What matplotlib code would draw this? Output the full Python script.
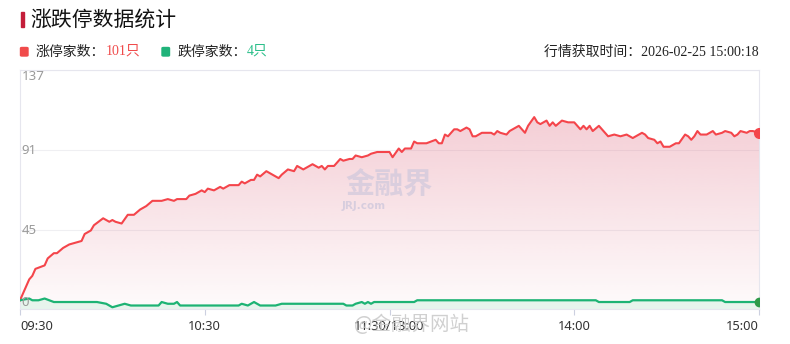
import matplotlib
matplotlib.use('Agg')
import matplotlib.pyplot as plt
import numpy as np
from matplotlib.patches import Rectangle, Polygon, FancyBboxPatch
from matplotlib.colors import to_rgb
import matplotlib.transforms as mtransforms

plt.rcParams['font.family'] = ['Noto Sans CJK SC', 'DejaVu Sans']

# ---------------- data ----------------
title = '涨跌停数据统计'
up_label = '涨停家数：'
up_count = '101只'
down_label = '跌停家数：'
down_count = '4只'
time_label = '行情获取时间：2026-02-25 15:00:18'

x_tick_pos = [0, 60, 120, 180, 240]          # trading minutes since 09:30
x_tick_labels = ['09:30', '10:30', '11:30/13:00', '14:00', '15:00']
y_ticks = [0, 45, 91, 137]

red_min = [0, 3, 4, 5, 8, 9, 11, 12, 14, 16, 18, 20, 21, 23, 24, 27, 29, 30, 31, 33,
           35, 37, 39, 41, 43, 46, 48, 50, 51, 54, 55, 57, 59, 60, 61, 63, 65, 66, 68, 70,
           71, 72, 73, 75, 76, 77, 78, 80, 81, 83, 84, 85, 87, 89, 90, 92, 95, 97, 98, 99,
           100, 102, 104, 105, 107, 108, 109, 111, 113, 114, 116, 120, 121, 123, 124, 125, 127, 128, 129, 132,
           135, 136, 137, 138, 139, 141, 142, 143, 145, 146, 147, 148, 150, 153, 154, 155, 156, 158, 159, 161,
           162, 164, 165, 167, 168, 169, 171, 172, 173, 174, 176, 178, 180, 182, 183, 184, 185, 186, 188, 189,
           191, 193, 195, 197, 198, 199, 200, 202, 203, 204, 206, 207, 208, 209, 211, 212, 213, 214, 216, 217,
           218, 219, 220, 221, 223, 225, 226, 228, 229, 231, 232, 233, 234, 236, 237, 238, 240]
red_val = [5, 17, 19, 23, 25, 29, 32, 32, 35, 37, 38, 39, 43, 45, 48, 52, 50, 51, 50, 49,
           54, 54, 57, 59, 62, 62, 63, 62, 63, 63, 65, 66, 68, 67, 69, 68, 70, 69, 71, 71,
           71, 73, 72, 74, 74, 77, 76, 79, 78, 76, 75, 77, 80, 79, 82, 80, 83, 81, 82, 80,
           82, 82, 86, 85, 86, 86, 88, 87, 88, 89, 90, 90, 87, 92, 90, 92, 92, 96, 95, 95,
           97, 95, 95, 100, 99, 103, 103, 102, 104, 103, 99, 99, 101, 101, 100, 102, 101, 100, 102, 104,
           105, 101, 105, 110, 107, 106, 108, 105, 107, 105, 108, 107, 107, 103, 105, 103, 105, 102, 105, 103,
           99, 100, 99, 100, 99, 98, 99, 101, 100, 98, 97, 95, 96, 93, 93, 94, 95, 95, 100, 99,
           97, 99, 102, 100, 100, 102, 100, 101, 102, 101, 99, 100, 102, 101, 102, 102, 101]

green_min = [0, 3, 4, 6, 8, 11, 25, 28, 30, 32, 34, 36, 45, 46, 48, 50, 51, 52, 71, 72,
             74, 76, 78, 83, 85, 105, 106, 108, 109, 111, 112, 113, 114, 115, 128, 129, 187, 188, 198, 199,
             228, 229, 240]
green_val = [5, 6, 5, 5, 6, 4, 4, 3, 1, 2, 3, 2, 2, 4, 3, 3, 4, 2, 2, 3,
             2, 4, 2, 2, 3, 3, 2, 2, 3, 4, 3, 4, 3, 4, 4, 5, 5, 4, 4, 5,
             5, 4, 4]

# ---------------- style ----------------
W, H = 790, 344
RED = '#f4454b'
GREEN = '#1db374'
fig = plt.figure(figsize=(W / 100, H / 100), dpi=100)
fig.patch.set_facecolor('white')

def fx(px):
    return px / W

def fy(py):
    return 1 - py / H

ax = fig.add_axes([fx(20), 35 / H, 739 / W, 239 / H])
ax.set_facecolor('white')

# gradient fill under red line
grad = np.linspace(0, 1, 256).reshape(-1, 1)
rgba = np.zeros((256, 1, 4))
rgba[..., :3] = to_rgb('#e2788c')
rgba[..., 3] = (0.03 + 0.33 * grad)
im = ax.imshow(rgba, extent=[0, 240, 0, max(red_val)], origin='lower',
               aspect='auto', zorder=1, interpolation='bilinear')
verts = [(red_min[0], 0)] + list(zip(red_min, red_val)) + [(red_min[-1], 0)]
poly = Polygon(verts, closed=True, facecolor='none', edgecolor='none')
ax.add_patch(poly)
im.set_clip_path(poly)

ax.fill_between(green_min, 0, green_val, color='#d9f1e4', alpha=0.6, zorder=1.5, linewidth=0)

ax.plot(red_min, red_val, color=RED, lw=1.5, zorder=3, solid_joinstyle='round')
ax.plot(green_min, green_val, color=GREEN, lw=1.6, zorder=3, solid_joinstyle='round')
ax.plot([red_min[-1]], [red_val[-1]], 'o', ms=7, color=RED, zorder=4, clip_on=True)
ax.plot([green_min[-1]], [green_val[-1]], 'o', ms=6, color='#2f9a4a', zorder=4, clip_on=True)

ax.set_xlim(0, 240)
ax.set_ylim(0, 137)

for s in ax.spines.values():
    s.set_color('#e6e6ee')
    s.set_linewidth(0.8)

ax.set_yticks(y_ticks)
ax.set_yticklabels([])
ax.tick_params(axis='y', length=0)
ax.yaxis.grid(True, color='#efeff2', lw=0.8)
ax.set_axisbelow(True)

trans = mtransforms.blended_transform_factory(ax.transAxes, ax.transData)
for v in y_ticks:
    va = 'center'
    if v == y_ticks[-1]:
        va = 'top'
    elif v == y_ticks[0]:
        va = 'bottom'
    ax.text(0.002, v, str(v), transform=trans, ha='left', va=va, color='#9a9a9a',
            fontsize=9.5, family=['Noto Sans', 'DejaVu Sans'], zorder=5)

ax.set_xticks(x_tick_pos)
ax.set_xticklabels(x_tick_labels, fontsize=9.3, color='#333333', family=['Noto Sans', 'Noto Sans CJK SC'])
ax.tick_params(axis='x', length=4, color='#ccd0e0', pad=4, width=0.8)
xt = ax.get_xticklabels()
xt[0].set_ha('left')
xt[-1].set_ha('right')

# watermark
ax.text(0.5, 0.52, '金融界', transform=ax.transAxes, ha='center', va='center', fontsize=21,
        fontweight='bold', color='#cfc8dc', alpha=0.7, zorder=2)
ax.text(0.465, 0.43, 'JRJ.com', transform=ax.transAxes, ha='center', va='center', fontsize=7.5,
        fontweight='bold', color='#cfc8dc', alpha=0.8, zorder=2, family='DejaVu Sans')
fig.text(fx(412), fy(325), '@金融界网站', ha='center', va='center', fontsize=14,
         color='#c8c8c8', alpha=0.85)

# title
fig.add_artist(Rectangle((fx(20.5), fy(27)), 3 / W, 15 / H, color='#c41e3a',
                         transform=fig.transFigure))
fig.text(fx(30), fy(19.5), title, ha='left', va='center', fontsize=15, color='#111111')

# legend
ly = fy(51.5)
fig.add_artist(FancyBboxPatch((fx(20.5), fy(56)), 7.5 / W, 8.5 / H,
                              boxstyle='round,pad=0,rounding_size=0.002',
                              color='#f04b4b', transform=fig.transFigure))
fig.add_artist(FancyBboxPatch((fx(162), fy(56)), 7.5 / W, 8.5 / H,
                              boxstyle='round,pad=0,rounding_size=0.002',
                              color='#20b37a', transform=fig.transFigure))

renderer = fig.canvas.get_renderer()
t1 = fig.text(fx(36), ly, up_label, ha='left', va='center', fontsize=10, color='#222222')
x1 = t1.get_window_extent(renderer).x1
fig.text(x1 / W, ly, up_count, ha='left', va='center', fontsize=10, color='#f04b4b',
         family=['Liberation Serif', 'Noto Sans CJK SC'])
t2 = fig.text(fx(177), ly, down_label, ha='left', va='center', fontsize=10, color='#222222')
x2 = t2.get_window_extent(renderer).x1
fig.text(x2 / W, ly, down_count, ha='left', va='center', fontsize=10, color='#2bbf8a',
         family=['Liberation Serif', 'Noto Sans CJK SC'])

fig.text(fx(759), fy(52.5), time_label, ha='right', va='center', fontsize=10, color='#222222',
         family=['Liberation Serif', 'Noto Sans CJK SC'])

fig.savefig('out.png', dpi=100, facecolor='white')
